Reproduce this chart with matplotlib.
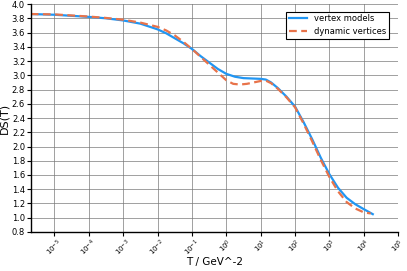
import numpy as np
import matplotlib
matplotlib.use('Agg')
import matplotlib.pyplot as plt

# log10(T) and DS(T)
logt_vertex = [-5.69, -5.0, -4.5, -4.0, -3.5, -3.0, -2.5, -2.0, -1.75, -1.5, -1.25, -1.0,
               -0.75, -0.5, -0.25, 0.0, 0.25, 0.5, 0.75, 1.0, 1.15, 1.3, 1.5, 1.75, 2.0,
               2.25, 2.5, 2.75, 3.0, 3.25, 3.5, 3.75, 4.0, 4.15, 4.26]
ds_vertex = [3.86, 3.85, 3.835, 3.82, 3.80, 3.77, 3.725, 3.645, 3.59, 3.52, 3.45, 3.37,
             3.27, 3.18, 3.09, 3.02, 2.98, 2.96, 2.955, 2.95, 2.94, 2.90, 2.82, 2.70, 2.56,
             2.34, 2.10, 1.84, 1.61, 1.42, 1.28, 1.19, 1.12, 1.08, 1.05]

logt_dynamic = [-5.69, -5.0, -4.0, -3.5, -3.0, -2.5, -2.0, -1.75, -1.5, -1.25, -1.0, -0.75,
                -0.5, -0.25, 0.0, 0.2, 0.4, 0.6, 0.8, 1.0, 1.15, 1.3, 1.5, 1.75, 2.0, 2.25,
                2.5, 2.75, 3.0, 3.25, 3.5, 3.75, 4.0, 4.2]
ds_dynamic = [3.86, 3.855, 3.825, 3.805, 3.78, 3.74, 3.68, 3.63, 3.56, 3.47, 3.37, 3.26,
              3.15, 3.04, 2.93, 2.88, 2.87, 2.88, 2.90, 2.92, 2.925, 2.89, 2.81, 2.69, 2.55,
              2.32, 2.07, 1.81, 1.57, 1.37, 1.22, 1.13, 1.075, 1.06]

decades = list(range(-5, 6))

fig = plt.figure(figsize=(4.07, 2.71), dpi=100)
ax = fig.add_axes([0.0754, 0.144, 0.903, 0.841])

ax.plot(10 ** np.array(logt_vertex), ds_vertex, color='#2196f3', lw=1.6, label='vertex models')
ax.plot(10 ** np.array(logt_dynamic), ds_dynamic, color='#e8734a', lw=1.6, ls=(0, (3.5, 2)),
        label='dynamic vertices')

ax.set_xscale('log')
ax.set_xlim(10 ** -5.69, 10 ** 5)
ax.set_ylim(0.8, 4.0)
ax.set_xticks([10.0 ** d for d in decades])
ax.set_xticklabels([f'$10^{{{d}}}$' for d in decades], rotation=45, fontsize=5)
ax.minorticks_off()
ax.set_yticks(np.arange(0.8, 4.01, 0.2))
ax.set_yticklabels([f'{v:.1f}' for v in np.arange(0.8, 4.01, 0.2)], fontsize=6)
ax.tick_params(length=3, width=0.8, pad=1)

ax.grid(True, color='#777777', lw=0.7, alpha=0.7)
ax.spines['top'].set_visible(False)
ax.spines['right'].set_visible(False)
ax.spines['left'].set_linewidth(1.0)
ax.spines['bottom'].set_linewidth(1.0)

ax.set_xlabel('T / GeV^-2', fontsize=7.5, labelpad=-1)
ax.set_ylabel('DS(T)', fontsize=8, labelpad=2)

leg = ax.legend(loc='upper right', fontsize=6, fancybox=False, framealpha=1,
                edgecolor='black', borderpad=0.3, handlelength=2.2, bbox_to_anchor=(0.985, 0.985))
leg.get_frame().set_linewidth(0.8)

fig.savefig('out.png', dpi=100)
